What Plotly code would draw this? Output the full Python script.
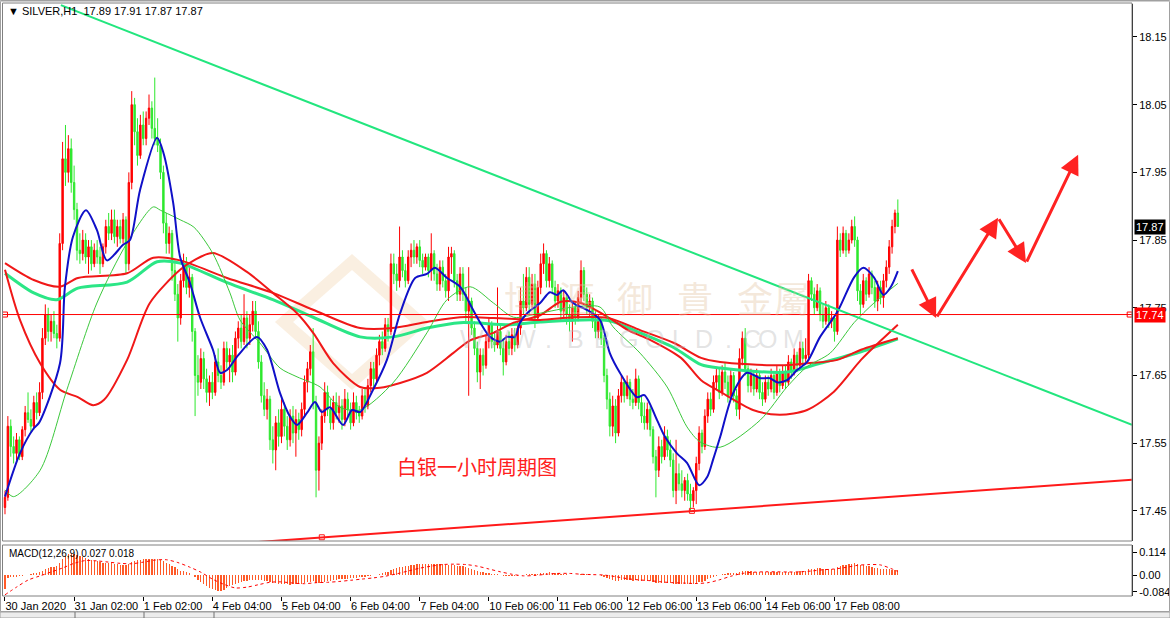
import plotly.graph_objects as go

# ---------------- data (prices: 17 + v/1000) ----------------
open_ = [455,470,575,545,535,555,530,570,595,585,
 575,610,595,625,705,740,715,730,712,705,
 845,970,950,985,935,895,835,830,850,825,
 840,815,835,825,815,840,870,860,880,855,
 870,852,880,815,935,1050,1010,975,1020,1000,
 1030,1045,1015,1000,990,950,875,845,860,805,
 770,735,790,815,780,795,715,650,640,675,
 645,625,640,625,670,650,640,690,670,680,
 655,705,720,700,735,705,725,745,715,670,
 620,600,615,555,540,580,560,600,575,555,
 590,565,585,570,600,640,660,685,610,510,
 550,590,625,600,580,610,595,605,585,615,
 600,580,610,595,590,620,605,635,660,645,
 680,700,690,725,715,815,800,790,825,805,
 790,825,835,825,840,820,810,825,805,830,
 800,785,810,790,775,825,830,790,770,800,
 770,745,760,720,690,655,680,665,700,725,
 700,695,715,690,670,700,690,710,695,720,
 760,750,795,755,785,735,780,815,830,790,
 815,780,760,775,745,765,740,730,750,735,
 765,805,770,750,760,730,715,730,705,650,
 615,575,605,565,620,640,620,640,615,610,
 645,610,590,580,600,570,530,510,545,530,
 560,540,525,480,505,490,480,495,475,465,
 480,520,565,545,590,615,600,640,650,625,
 655,640,620,650,620,600,675,705,660,635,
 650,630,650,625,615,640,630,650,625,655,
 635,655,640,670,655,680,665,690,675,680,
 790,770,750,775,740,730,750,730,735,715,
 850,835,860,835,850,870,850,775,755,790,
 770,800,780,760,780,765,790,810,840,870,
 890]
high = [480,590,585,560,565,560,575,605,625,600,
 620,625,640,720,755,750,740,745,725,860,
 995,1020,1005,1000,960,905,860,865,860,850,
 850,845,850,840,845,880,890,895,895,880,
 880,890,885,950,1070,1060,1030,1035,1040,1040,
 1065,1055,1090,1030,1000,960,890,870,865,820,
 785,800,830,825,810,800,720,680,690,685,
 660,650,655,680,690,665,700,700,690,695,
 715,730,740,770,745,740,760,760,730,680,
 640,630,620,575,590,600,615,610,590,600,
 605,600,595,610,650,670,695,720,620,560,
 600,640,635,615,620,625,620,615,630,625,
 610,625,620,605,630,630,645,670,670,690,
 710,715,735,735,830,830,815,870,835,815,
 835,845,850,845,850,830,830,830,860,835,
 815,820,820,800,840,840,835,800,810,810,
 780,810,765,730,700,690,690,710,735,730,
 715,780,725,705,710,715,720,720,730,780,
 800,810,810,800,800,790,830,845,835,825,
 820,790,785,780,775,770,755,760,760,775,
 820,810,780,770,765,745,740,735,710,660,
 625,620,615,630,650,645,650,645,630,660,
 650,620,610,610,605,575,540,560,555,575,
 570,555,535,555,520,510,500,505,490,485,
 530,575,570,600,625,625,650,660,660,665,
 670,650,660,655,630,690,715,720,665,660,
 655,660,655,640,650,650,660,655,665,660,
 665,665,680,675,690,685,700,700,705,800,
 795,780,785,780,755,760,755,745,740,870,
 860,870,865,860,880,885,855,785,800,795,
 810,805,790,790,790,800,820,850,880,895,
 910]
low = [445,465,530,520,525,525,525,560,580,565,
 570,585,590,615,695,700,700,705,690,700,
 835,930,935,920,880,820,815,820,815,800,
 805,810,815,800,810,830,850,850,845,840,
 845,845,800,805,925,990,960,970,990,990,
 1020,1000,990,980,940,860,830,830,790,760,
 700,725,780,770,765,700,590,620,630,630,
 610,605,615,620,640,630,635,660,640,640,
 650,690,690,695,690,695,715,705,660,610,
 590,585,540,520,510,545,550,560,540,545,
 550,530,555,560,590,625,650,600,470,480,
 540,580,590,570,570,585,580,570,575,590,
 570,575,585,580,585,595,600,625,630,640,
 665,680,685,700,710,785,775,780,795,780,
 785,810,815,815,810,800,805,795,790,790,
 775,775,780,765,760,800,780,760,760,760,
 730,620,710,680,640,630,650,660,690,690,
 685,690,680,650,665,680,680,685,690,710,
 740,745,740,750,720,730,770,800,780,780,
 770,750,750,730,735,725,715,700,725,730,
 755,760,740,735,720,705,705,695,640,600,
 560,560,550,560,610,610,615,605,600,605,
 600,580,570,570,560,520,470,500,520,525,
 530,515,470,460,480,470,465,465,450,455,
 460,510,535,540,580,590,595,630,615,620,
 630,610,615,610,590,585,665,650,625,625,
 620,625,615,605,610,620,625,615,620,625,
 630,630,635,645,650,655,660,665,670,675,
 760,740,745,730,720,725,720,720,700,710,
 825,830,825,830,845,840,760,740,750,760,
 765,770,750,745,755,750,780,800,830,860,
 870]
close = [470,575,545,535,555,530,570,595,585,575,
 610,595,625,705,740,715,730,712,705,845,
 970,950,985,935,895,835,830,850,825,840,
 815,835,825,815,840,870,860,880,855,870,
 852,880,815,935,1050,1010,975,1020,1000,1030,
 1045,1015,1000,990,950,875,845,860,805,770,
 735,790,815,780,795,715,650,640,675,645,
 625,640,625,670,650,640,690,670,680,655,
 705,720,700,735,705,725,745,715,670,620,
 600,615,555,540,580,560,600,575,555,590,
 565,585,570,600,640,660,685,610,510,550,
 590,625,600,580,610,595,605,585,615,600,
 580,610,595,590,620,605,635,660,645,680,
 700,690,725,715,815,800,790,825,805,790,
 825,835,825,840,820,810,825,805,830,800,
 785,810,790,775,825,830,790,770,800,770,
 745,760,720,690,655,680,665,700,725,700,
 695,715,690,670,700,690,710,695,720,760,
 750,795,755,785,735,780,815,830,790,815,
 780,760,775,745,765,740,730,750,735,765,
 805,770,750,760,730,715,730,705,650,615,
 575,605,565,620,640,620,640,615,610,645,
 610,590,580,600,570,530,510,545,530,560,
 540,525,480,505,490,480,495,475,465,480,
 520,565,545,590,615,600,640,650,625,655,
 640,620,650,620,600,675,705,660,635,650,
 630,650,625,615,640,630,650,625,655,635,
 655,640,670,655,680,665,690,675,680,790,
 770,750,775,740,730,750,730,735,715,850,
 835,860,835,850,870,850,775,755,790,770,
 800,780,760,780,765,790,810,840,870,890,
 870]

# moving averages (bar index, price)
blue_bars = [0,5.2,10,11.8,19.1,20.8,23.6,28.1,31.9,35.4,41,43.4,46.9,52.8,55,58.4,60.8,64.2,67.7,72.2,74.7,77.1,81,87.5,91,95.5,99,101.4,104.9,107.6,110,112.8,117.4,120.5,123.3,127.8,132.6,137.2,142.4,146.5,149.3,153.5,158,162.5,165,168.4,171.9,174.3,177,178.8,181.3,185.8,189.2,191.7,193.8,197.2,202,206.6,210,213.5,219.4,222,226.4,229.2,233.3,236.8,241,243.8,245.8,248.3,252.8,257.6,262.2,265.6,268,271.5,275,278.5,283,289,294.8,298,301.7,305,307.6,310]
blue_vals = [17.471,17.535,17.572,17.58,17.668,17.78,17.855,17.894,17.865,17.82,17.843,17.85,17.924,18.001,17.979,17.905,17.825,17.787,17.736,17.688,17.654,17.658,17.68,17.707,17.688,17.624,17.589,17.577,17.595,17.611,17.596,17.603,17.577,17.599,17.596,17.629,17.673,17.742,17.794,17.80,17.809,17.794,17.781,17.747,17.728,17.707,17.70,17.707,17.707,17.728,17.742,17.757,17.773,17.769,17.776,17.757,17.747,17.732,17.683,17.654,17.618,17.621,17.584,17.559,17.535,17.521,17.488,17.50,17.525,17.559,17.624,17.654,17.646,17.646,17.64,17.643,17.658,17.67,17.707,17.744,17.795,17.809,17.795,17.769,17.781,17.804]
tg_bars = [0,3,12.2,21.5,31.9,42.4,51.5,54,60.8,65.6,72.2,78.1,81.6,88.5,95.5,101.4,109.4,116.3,123.3,134.7,146.5,153.5,161.5,169.6,176.6,185.8,197.2,206.6,211.1,220.5,229.9,236.8,241.3,248.3,262.2,271.5,278.5,286.5,294.8,301.7,310]
tg_vals = [17.481,17.471,17.51,17.629,17.757,17.846,17.899,17.894,17.88,17.869,17.83,17.772,17.732,17.698,17.661,17.648,17.633,17.603,17.599,17.639,17.713,17.762,17.781,17.757,17.736,17.742,17.751,17.751,17.722,17.683,17.633,17.574,17.552,17.544,17.584,17.633,17.663,17.683,17.728,17.757,17.786]
rb_bars = [0,5.2,12.2,19.1,25.3,30.6,34.4,42.4,50.3,60.8,65.6,72.2,84,93,101.4,107,114,123.3,130.2,137.2,146.5,155.6,161.5,169.6,176.6,185.8,193,200,209.4,216.3,224.3,234.7,241.7,248.3,259.7,269,278.5,287.8,297.2,304.2,310]
rb_vals = [17.806,17.732,17.668,17.629,17.618,17.606,17.614,17.673,17.757,17.806,17.82,17.831,17.803,17.772,17.742,17.713,17.668,17.633,17.632,17.639,17.654,17.683,17.702,17.713,17.728,17.739,17.759,17.757,17.736,17.717,17.702,17.676,17.643,17.626,17.599,17.592,17.599,17.626,17.673,17.702,17.725]
ra_bars = [0,10,19.1,25.3,42.4,51.5,60.8,77.1,93,107,123.3,134.7,146.5,158,169.6,185.8,197.2,209.4,220.5,232.3,241.7,248.3,269,278.5,289,297.2,310]
ra_vals = [17.816,17.791,17.781,17.794,17.801,17.824,17.82,17.794,17.772,17.747,17.72,17.72,17.729,17.736,17.735,17.732,17.736,17.735,17.717,17.698,17.676,17.67,17.665,17.668,17.673,17.688,17.705]
gt_bars = [0,10,18,25.3,42.4,52.8,60.8,77.1,93,107,123.3,134.7,146.5,158,175.4,185.8,209.4,220.5,232.3,241.7,248.3,271.5,283,297.2,310]
gt_vals = [17.801,17.772,17.762,17.779,17.788,17.818,17.816,17.787,17.762,17.736,17.707,17.707,17.72,17.728,17.725,17.729,17.731,17.713,17.691,17.666,17.661,17.655,17.668,17.685,17.704]

# MACD main (thousandths), one per bar
macd = [-70,-15,-12,-10,-8,-7,-4,0,2,4,
 8,10,14,22,32,36,40,42,44,58,
 80,95,104,106,104,98,92,88,84,80,
 76,72,68,64,62,61,60,58,56,54,
 52,51,48,55,66,72,74,76,78,80,
 82,82,80,78,74,68,60,54,46,38,
 28,22,18,14,10,2,-12,-24,-36,-46,
 -54,-62,-70,-76,-80,-78,-72,-64,-56,-48,
 -42,-38,-34,-30,-28,-26,-24,-23,-23,-25,
 -30,-32,-36,-39,-41,-43,-44,-45,-46,-47,
 -46,-46,-45,-43,-40,-36,-33,-31,-38,-40,
 -37,-33,-30,-28,-26,-24,-22,-21,-19,-18,
 -17,-15,-14,-12,-10,-9,-7,-4,-2,2,
 6,9,14,17,26,30,33,38,42,44,
 47,50,52,54,55,55,56,56,57,56,
 55,55,54,52,52,52,50,47,46,43,
 39,37,32,26,20,17,13,11,10,7,
 4,3,0,-3,-4,-5,-5,-5,-4,-1,
 1,4,5,6,5,6,9,12,12,13,
 12,10,9,6,5,3,1,1,0,1,
 4,4,3,3,1,-1,-2,-4,-9,-15,
 -22,-24,-28,-28,-27,-27,-26,-27,-28,-27,
 -28,-30,-31,-31,-32,-35,-39,-40,-40,-40,
 -40,-41,-43,-43,-44,-44,-44,-45,-46,-45,
 -42,-37,-34,-28,-21,-16,-10,-5,0,4,
 7,9,11,12,12,16,19,19,18,18,
 17,17,16,15,15,15,15,14,15,15,
 15,15,16,16,17,17,18,18,19,28,
 31,32,34,33,32,32,31,31,30,40,
 45,50,52,54,57,58,54,50,48,45,
 43,40,36,34,31,30,29,28,27,27,
 27]
sig_bars = [0,4,8,12,16,20,24,28,32,36,40,44,48,52,56,60,64,68,72,76,80,84,88,92,96,100,104,108,112,116,120,124,128,132,136,140,144,148,152,156,160,164,168,172,176,180,184,188,192,196,200,204,208,212,216,220,224,228,232,236,240,244,248,252,256,260,264,268,272,276,280,284,288,292,296,300,304,308,310]
sig_vals = [-98,-60,-25,-5,15,35,58,72,70,64,58,56,64,74,76,62,40,14,-20,-46,-64,-60,-48,-36,-34,-40,-43,-38,-36,-32,-26,-20,-14,-6,6,20,34,44,52,54,52,44,30,16,4,-4,-2,4,8,8,4,2,0,-8,-18,-24,-28,-34,-38,-40,-42,-38,-24,-6,8,14,16,16,15,16,20,26,30,38,48,52,50,30,18]

tick_bars = [0,24,48,72,96,120,144,168,192,216,240,264,288]
tick_labels = ["30 Jan 2020","31 Jan 02:00","1 Feb 02:00","4 Feb 04:00","5 Feb 04:00",
               "6 Feb 04:00","7 Feb 04:00","10 Feb 06:00","11 Feb 06:00","12 Feb 06:00",
               "13 Feb 06:00","14 Feb 06:00","17 Feb 08:00"]
price_ticks = [17.45,17.55,17.65,17.75,17.85,17.95,18.05,18.15]
macd_ticks = [0.114, 0.0, -0.084]
macd_tick_text = ["0.114", "0.00", "-0.084"]

hline_price = 17.74
last_price = 17.87
res_bars = [19.4, 391.3]          # falling resistance line
res_px = [18.197, 17.577]
sup_bars = [78, 391.3]            # rising support line
sup_px = [17.401, 17.496]
sup_anchor_bars = [110, 238.5]
sup_anchor_px = [17.411, 17.450]
fc_bars = [314.6, 323.3, 344.8, 354.5, 372.6]   # forecast zig-zag
fc_px = [17.809, 17.735, 17.883, 17.816, 17.976]

# ---------------- layout geometry ----------------
W, H = 1170, 618
L, R, T, B = 3, 38, 4, 22
PW = W - L - R
PH = H - T - B
def fx(px): return (px - L) / PW
def fy(py): return (H - B - py) / PH

n = len(close)
xs = list(range(n))
P = lambda arr: [17 + v / 1000 for v in arr]

UP = "#FF0000"
DN = "#2EE82E"
FONT = "Liberation Sans"

fig = go.Figure()

fig.add_trace(go.Candlestick(
    x=xs, open=P(open_), high=P(high), low=P(low), close=P(close),
    increasing=dict(line=dict(color=UP, width=1), fillcolor=UP),
    decreasing=dict(line=dict(color=DN, width=1), fillcolor=DN),
    whiskerwidth=0, xaxis="x", yaxis="y", showlegend=False, hoverinfo="skip"))

def ma(bx, vals, color, width):
    fig.add_trace(go.Scatter(x=bx, y=vals, mode="lines", xaxis="x", yaxis="y",
                             line=dict(color=color, width=width, shape="spline", smoothing=0.8),
                             showlegend=False, hoverinfo="skip"))

ma(gt_bars, gt_vals, "#2BE686", 3)
ma(ra_bars, ra_vals, "#F01818", 2)
ma(rb_bars, rb_vals, "#F01818", 2)
ma(tg_bars, tg_vals, "#3CC83C", 1)
ma(blue_bars, blue_vals, "#1010C8", 2)

# trend lines
fig.add_trace(go.Scatter(x=res_bars, y=res_px, mode="lines", xaxis="x", yaxis="y",
                         line=dict(color="#22E67E", width=2), showlegend=False, hoverinfo="skip"))
fig.add_trace(go.Scatter(x=sup_bars, y=sup_px, mode="lines", xaxis="x", yaxis="y",
                         line=dict(color="#FF1A1A", width=2), showlegend=False, hoverinfo="skip"))
fig.add_trace(go.Scatter(x=sup_anchor_bars, y=sup_anchor_px, mode="markers", xaxis="x", yaxis="y",
                         marker=dict(symbol="square-open", size=5, color="#FF1A1A", line=dict(width=1)),
                         showlegend=False, hoverinfo="skip"))
# horizontal level
fig.add_trace(go.Scatter(x=[-0.69, 391.3], y=[hline_price, hline_price], mode="lines", xaxis="x", yaxis="y",
                         line=dict(color="#FF0000", width=1), showlegend=False, hoverinfo="skip"))
fig.add_trace(go.Scatter(x=[0, 390.5], y=[hline_price, hline_price], mode="markers", xaxis="x", yaxis="y",
                         marker=dict(symbol="square-open", size=5, color="#FF0000", line=dict(width=1)),
                         showlegend=False, hoverinfo="skip"))

# MACD
fig.add_trace(go.Bar(x=xs, y=[v / 1000 for v in macd], width=0.45, xaxis="x2", yaxis="y2",
                     marker=dict(color="#FF5A28", line=dict(width=0)), showlegend=False, hoverinfo="skip"))
fig.add_trace(go.Scatter(x=sig_bars, y=[v / 1000 for v in sig_vals], mode="lines", xaxis="x2", yaxis="y2",
                         line=dict(color="#FF0000", width=1, dash="dot", shape="spline", smoothing=0.8),
                         showlegend=False, hoverinfo="skip"))

annotations = []
# forecast arrows
for i in range(len(fc_bars) - 1):
    annotations.append(dict(x=fc_bars[i + 1], y=fc_px[i + 1], ax=fc_bars[i], ay=fc_px[i],
                            xref="x", yref="y", axref="x", ayref="y", text="",
                            showarrow=True, arrowhead=2, arrowsize=1.3, arrowwidth=3,
                            arrowcolor="#FF2222", standoff=0, startstandoff=0))

# watermark
wm_chars = ["博", "滙", "御", "貴", "金", "屬"]
wm_x = [522, 577, 635, 695, 755, 812]
for c, px in zip(wm_chars, wm_x):
    annotations.append(dict(x=fx(px), y=fy(297), xref="paper", yref="paper", text=c, showarrow=False,
                            font=dict(family="Noto Sans CJK TC", size=36, color="rgba(226,196,160,0.38)")))
url_chars = list("WWW.BBGOLD.COM")
url_x = [472, 498, 524, 548, 575, 602, 628, 654, 679, 704, 728, 752, 779, 806]
for c, px in zip(url_chars, url_x):
    annotations.append(dict(x=fx(px), y=fy(339), xref="paper", yref="paper", text=c, showarrow=False,
                            font=dict(family=FONT, size=25, color="rgba(185,185,185,0.40)")))

annotations += [
    dict(x=fx(6), y=fy(11), xref="paper", yref="paper", xanchor="left", yanchor="middle",
         text="▼ SILVER,H1\u00a0\u00a017.89 17.91 17.87 17.87", showarrow=False,
         font=dict(family=FONT, size=11, color="#000000")),
    dict(x=fx(7), y=fy(553), xref="paper", yref="paper", xanchor="left", yanchor="middle",
         text="MACD(12,26,9) 0.027 0.018", showarrow=False,
         font=dict(family=FONT, size=10, color="#000000")),
    dict(x=fx(477), y=fy(483), xref="paper", yref="paper", text="白银一小时周期图", showarrow=False,
         font=dict(family="Noto Sans CJK SC", size=20, color="#FF2020")),
    dict(x=1, y=last_price, xref="paper", yref="y", xanchor="left", yanchor="middle", xshift=2,
         text="17.87", showarrow=False, bgcolor="#000000", borderpad=1,
         font=dict(family=FONT, size=11, color="#FFFFFF")),
    dict(x=1, y=hline_price, xref="paper", yref="y", xanchor="left", yanchor="middle", xshift=2,
         text="17.74", showarrow=False, bgcolor="#FF0000", borderpad=1,
         font=dict(family=FONT, size=11, color="#FFFFFF")),
]

def rect(x0, y0, x1, y1, color="#808080", fill=None, width=1):
    return dict(type="rect", xref="paper", yref="paper", x0=fx(x0), x1=fx(x1), y0=fy(y0), y1=fy(y1),
                line=dict(color=color, width=width), fillcolor=fill, layer="above" if fill is None else "below")

def line(x0, y0, x1, y1, color="#808080", width=1):
    return dict(type="line", xref="paper", yref="paper", x0=fx(x0), x1=fx(x1), y0=fy(y0), y1=fy(y1),
                line=dict(color=color, width=width))

# faint logo diamond
cx, cy, hw, hh = 352, 322, 68, 60
logo_path = "M {} {} L {} {} L {} {} L {} {} Z".format(
    fx(cx), fy(cy - hh), fx(cx + hw), fy(cy), fx(cx), fy(cy + hh), fx(cx - hw), fy(cy))
shapes = [
    dict(type="path", xref="paper", yref="paper", path=logo_path, layer="below",
         line=dict(color="rgba(240,208,168,0.35)", width=12), fillcolor="rgba(0,0,0,0)"),
    rect(0.5, 0.5, 1169.5, 611.5, color="#A0A0A0"),
    rect(2.5, 3, 1132, 541, color="#808080"),
    rect(2.5, 545, 1132, 596, color="#808080"),
    line(0.5, 1.5, 1169.5, 1.5, color="#D0D0D0"),
    rect(0, 612, 1170, 618, color="#A0A0A0", fill="#ECECEC"),
    line(75, 612, 75, 618, color="#707070"),
    line(144, 612, 144, 618, color="#707070"),
    line(214, 612, 214, 618, color="#707070"),
]

fig.update_layout(
    width=W, height=H, margin=dict(l=L, r=R, t=T, b=B, autoexpand=False),
    paper_bgcolor="#FFFFFF", plot_bgcolor="#FFFFFF",
    showlegend=False, bargap=0,
    font=dict(family=FONT, size=11, color="#000000"),
    xaxis=dict(domain=[0, 1], range=[-0.69, 391.3], anchor="y", showticklabels=False,
               showgrid=False, zeroline=False, showline=False, ticks="", rangeslider=dict(visible=False),
               automargin=False),
    xaxis2=dict(domain=[0, 1], range=[-0.69, 391.3], anchor="y2", matches="x",
                tickmode="array", tickvals=tick_bars, ticktext=tick_labels, tickangle=0,
                ticks="outside", ticklen=4, tickcolor="#000000", ticklabelposition="outside right",
                tickfont=dict(family=FONT, size=11, color="#000000"), automargin=False,
                showgrid=False, zeroline=False, showline=False),
    yaxis=dict(domain=[fy(541), 1], range=[17.4055, 18.1987], side="right", anchor="x",
               tickmode="array", tickvals=price_ticks, ticktext=["%.2f" % v for v in price_ticks],
               ticks="outside", ticklen=4, tickcolor="#000000", showline=True, linecolor="#000000",
               linewidth=1, showgrid=False, zeroline=False, automargin=False,
               tickfont=dict(family=FONT, size=11, color="#000000")),
    yaxis2=dict(domain=[0, fy(545)], range=[-0.104, 0.149], side="right", anchor="x2",
                tickmode="array", tickvals=macd_ticks, ticktext=macd_tick_text,
                ticks="outside", ticklen=4, tickcolor="#000000", showline=True, linecolor="#000000",
                linewidth=1, showgrid=False, zeroline=False, automargin=False,
                tickfont=dict(family=FONT, size=11, color="#000000")),
    annotations=annotations,
    shapes=shapes,
)

fig.write_html("out.html", config={"displayModeBar": False, "staticPlot": True},
               post_script="document.body.style.margin='0';document.body.style.padding='0';"
                           "document.body.style.overflow='hidden';")
